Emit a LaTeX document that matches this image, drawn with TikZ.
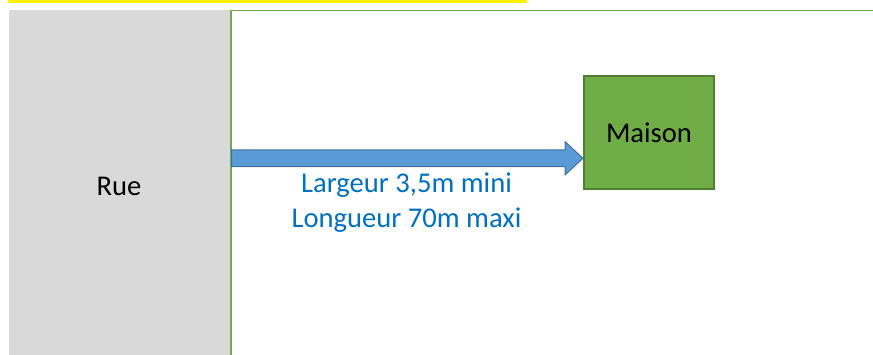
\documentclass[tikz,border=0pt]{standalone}
\usepackage{fontspec}
\setmainfont{Carlito}
\usetikzlibrary{calc}

\definecolor{ruegray}{HTML}{D9D9D9}
\definecolor{parcelgreen}{HTML}{70AD47}
\definecolor{maisonborder}{HTML}{507E32}
\definecolor{arrowfill}{HTML}{5B9BD5}
\definecolor{arrowborder}{HTML}{41719C}
\definecolor{labelblue}{HTML}{0070C0}

\tikzset{
	bigtext/.style={font=\fontsize{28.6}{35}\selectfont,inner sep=0,anchor=base},
	limit/.style={draw=parcelgreen,line width=1.3pt},
	accessarrow/.style={fill=arrowfill,draw=arrowborder,line width=1pt,line join=miter}
}

\begin{document}
\begin{tikzpicture}[x=1pt,y=-1pt]
	\useasboundingbox (0,0) rectangle (873,355);
	\fill[yellow] (8,0) rectangle (527,3);
	\fill[ruegray] (9,10) rectangle (230,355);
	\draw[limit] (231,355) -- (231,10.5) -- (873,10.5);
	\node[bigtext] (rue) at (119,195.7) {Rue};
	\node[draw=maisonborder,line width=2pt,fill=parcelgreen,minimum width=130,minimum height=113,inner sep=0,font=\fontsize{28.6}{35}\selectfont] (maison) at (649,132.5) {Maison};
	\coordinate (start) at (231.5,158.3);
	\coordinate (tip) at (maison.west |- start);
	\draw[accessarrow] ($(start)+(0,-8.3)$) -- ($(tip)+(-18,-8.3)$) -- ($(tip)+(-18,-16.7)$) -- (tip)
		-- ($(tip)+(-18,16.7)$) -- ($(tip)+(-18,8.3)$) -- ($(start)+(0,8.3)$) -- cycle;
	\node[bigtext,text=labelblue] (width) at (406.5,193) {Largeur 3,5m mini};
	\node[bigtext,text=labelblue] (length) at (406.5,228) {Longueur 70m maxi};
\end{tikzpicture}
\end{document}
